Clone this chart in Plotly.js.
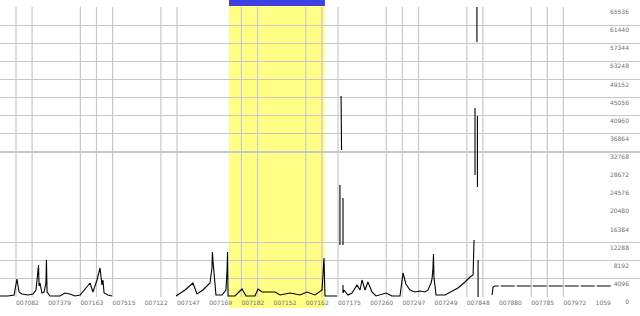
<!DOCTYPE html>
<html>
<head>
<meta charset="utf-8">
<script src="https://cdn.plot.ly/plotly-3.0.1.min.js"></script>
<style>html,body{margin:0;padding:0;background:#fff;}#chart{width:640px;height:316px;}</style>
</head>
<body>
<div id="chart"></div>
<script>
// ---- data ----
const xValues = [-0.99,-0.50,-0.12,0.06,0.19,0.37,0.75,1.06,1.24,1.37,1.40,1.43,1.49,1.61,1.74,1.86,1.89,1.93,2.11,2.73,3.04,3.35,3.66,3.98,4.29,4.60,4.78,5.03,5.22,5.34,5.40,5.47,5.71,5.96,
  null,
  9.94,10.50,10.99,11.24,11.61,12.05,12.17,12.20,12.24,12.42,12.80,13.04,13.11,13.14,13.17,13.60,14.04,14.29,14.84,15.03,15.28,16.09,16.40,17.02,17.64,18.07,18.57,19.01,19.13,19.19,19.94,
  null, 20.12,20.12,
  null, 20.19,20.22,
  null, 20.31,20.31,
  null, 20.31,20.31,20.37,20.62,20.87,21.18,21.37,21.49,21.68,21.86,22.11,22.36,22.98,23.35,23.85,24.04,24.22,24.47,24.78,25.09,25.40,25.59,25.78,25.84,25.90,25.93,25.96,
  26.09,26.65,26.96,27.45,27.89,28.20,28.39,28.45,
  null, 28.51,28.51,
  null, 28.63,28.63,
  null, 28.66,28.66,
  null, 28.70,28.70];
const yValues = [226,226,452,4068,1130,678,452,678,1582,5650,7232,2486,3164,904,1130,3164,8362,1130,226,226,904,678,226,452,1808,3164,1130,3842,6554,2712,3842,904,452,226,
  null,
  226,1582,3164,678,1582,3164,6554,10170,7910,452,452,1582,6102,10170,226,226,1808,226,226,1808,1130,1130,452,904,452,1130,452,1582,8814,226,226,
  null, 25312,11752,
  null, 45426,33222,
  null, 22374,11752,
  null, 2712,904,1582,452,904,2712,1582,3842,1582,3390,1130,226,904,226,226,5424,2938,1582,1130,1356,1130,1582,3164,4068,6554,9718,4520,
  452,452,1130,2034,3390,4520,4972,12882,
  null, 42714,27572,
  null, 65536,57630,
  null, 40906,24860,
  null, 8362,0];
const tailX = [29.57,29.63,29.75,37.02];
const tailY = [452,2260,2486,2486];

const xTickVals = [0,2,4,6,8,10,12,14,16,18,20,22,24,26,28,30,32,34,36];
const xTickText = ["007082","007379","007163","007515","007122","007147","007169","007182","007152","007162","007175","007260","007297","007249","007848","007880","007785","007972","1059"];
const yLabelVals = [0,4096,8192,12288,16384,20480,24576,28672,32768,36864,40960,45056,49152,53248,57344,61440,65536];
const yGridVals = [4096,8192,12288,32768,36864,40960,45056,49152,53248,57344,61440];
const xGridVals = [0,1,4,5,6,9,10,14,15,18,19,20,23,24,25,28,29,32,33,34];
const highlightStart = 13.23;
const highlightEnd = 19.19;

// ---- chart ----
const gridColor = '#c8c8c8';
const labelFont = {family:'DejaVu Sans, sans-serif', size:6, color:'#707070'};
const shapes = [
  {type:'rect', layer:'below', xref:'x', yref:'paper', x0:highlightStart, x1:highlightEnd, y0:0.025, y1:0.981,
   fillcolor:'#ffff86', line:{width:0}},
  {type:'rect', layer:'above', xref:'x', yref:'paper', x0:highlightStart, x1:highlightEnd, y0:0.981, y1:1,
   fillcolor:'#4040e2', line:{width:0}}
];
xGridVals.forEach(g => shapes.push({type:'line', layer:'below', xref:'x', yref:'y', x0:g, x1:g, y0:0, y1:65536,
  line:{color:gridColor, width:1.2}}));

const traces = [
  {type:'scatter', mode:'lines', x:xValues, y:yValues, connectgaps:false,
   line:{color:'#000', width:1.1}, hoverinfo:'skip', showlegend:false},
  {type:'scatter', mode:'lines', x:tailX, y:tailY,
   line:{color:'#000', width:1.1, dash:'14px,2px'}, hoverinfo:'skip', showlegend:false},
  {type:'scatter', mode:'markers', x:[0], y:[0], yaxis:'y2', marker:{opacity:0}, hoverinfo:'skip', showlegend:false}
];

const layout = {
  width:640, height:316,
  margin:{l:0, r:0, t:0, b:0, pad:0},
  paper_bgcolor:'#fff', plot_bgcolor:'#fff',
  showlegend:false,
  xaxis:{range:[-0.994, 38.758], anchor:'free', position:0.057,
    tickvals:xTickVals, ticktext:xTickText, ticks:'', tickangle:0, ticklabelposition:'outside right',
    showgrid:false, zeroline:false, showline:false, tickfont:labelFont},
  yaxis:{range:[-4294, 67118], tickvals:yGridVals, showticklabels:false, ticks:'',
    showgrid:true, gridcolor:gridColor, gridwidth:1.2, zeroline:false, showline:false},
  yaxis2:{overlaying:'y', side:'right', anchor:'x', range:[-3164, 68248],
    tickvals:yLabelVals, ticktext:yLabelVals.map(String), ticks:'', ticklabelposition:'inside',
    ticklabelstandoff:8, showgrid:false, zeroline:false, showline:false, tickfont:labelFont},
  shapes:shapes
};

Plotly.newPlot('chart', traces, layout, {staticPlot:true, displayModeBar:false});
</script>
</body>
</html>
